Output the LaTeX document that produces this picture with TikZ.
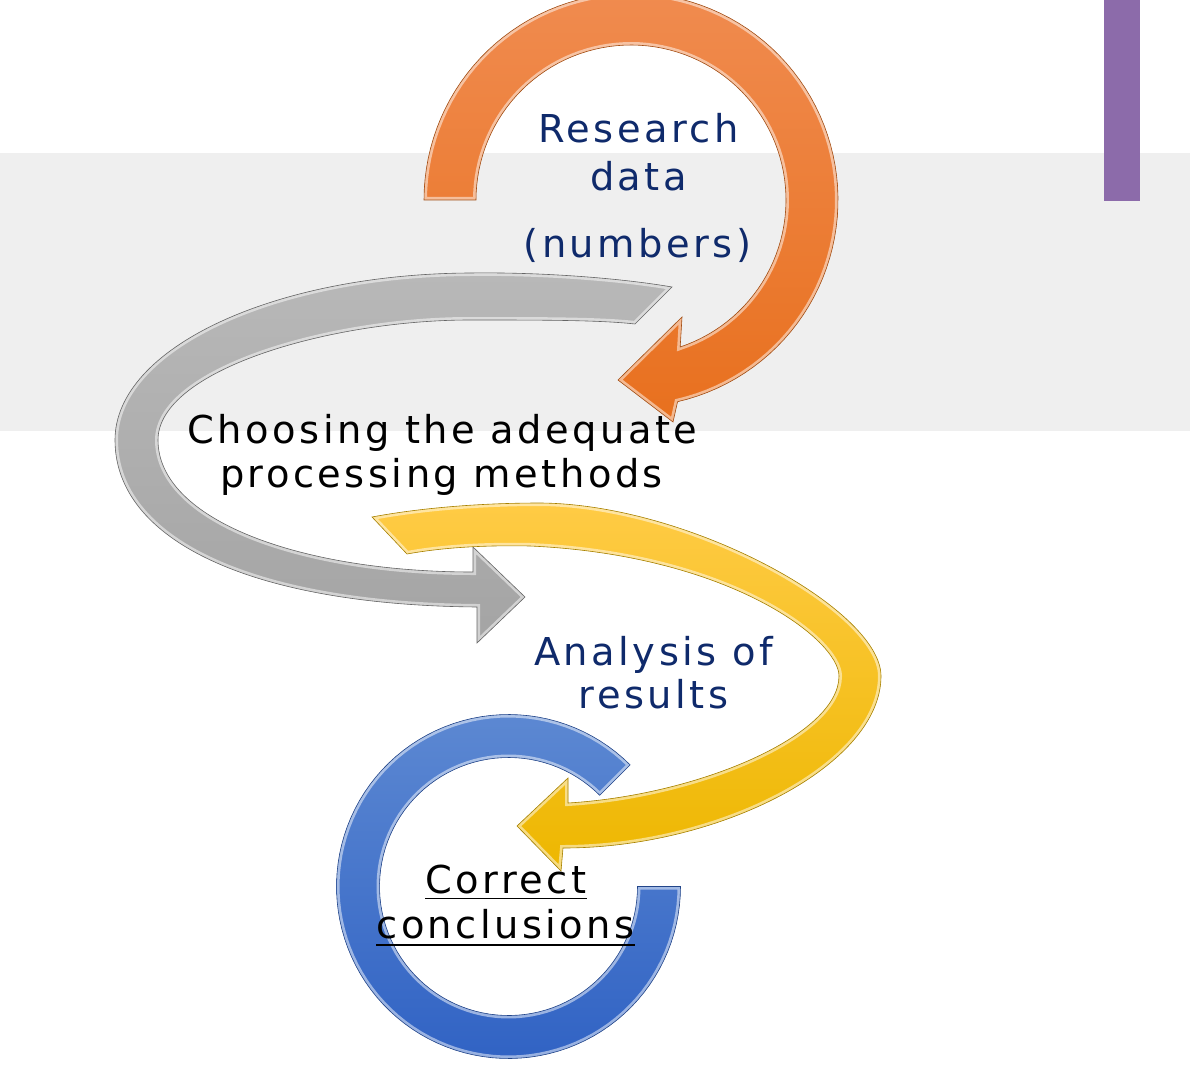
\documentclass[tikz,border=0pt]{standalone}
\usepackage{fontspec}
\setmainfont{DejaVu Sans}
\newfontfamily\labelfont[LetterSpace=9]{DejaVu Sans}

\definecolor{navy}{HTML}{0F2A6B}
\definecolor{bandgray}{HTML}{EFEFEF}
\definecolor{barpurple}{HTML}{8C6BAA}
\definecolor{orangetop}{HTML}{F08B4F}
\definecolor{orangebot}{HTML}{E8701E}
\definecolor{graytop}{HTML}{B8B8B8}
\definecolor{graybot}{HTML}{A4A4A4}
\definecolor{yellowtop}{HTML}{FFCB45}
\definecolor{yellowbot}{HTML}{EDB700}
\definecolor{bluetop}{HTML}{5C88D2}
\definecolor{bluebot}{HTML}{3163C4}

% Outline of each curved arrow; the argument holds the path options
\newcommand\orangearrow[1]{\path[#1] (424,200)
  -- plot[domain=180:437,samples=90,variable=\x] ({631+207*cos(\x)},{200+207*sin(\x)})
  -- (673,422) -- (618,380) -- (682,317)
  -- plot[domain=431.5:180,samples=90,variable=\x] ({631+155*cos(\x)},{200+155*sin(\x)})
  -- cycle;}

\newcommand\grayarrow[1]{\path[#1] (672,287)
  .. controls (620,278) and (540,272) .. (470,273)
  .. controls (274,274) and (115,348) .. (115,440)
  .. controls (115,540) and (250,605) .. (477,607)
  -- (477,643) -- (525,597) -- (473,547) -- (473,572)
  .. controls (300,572) and (158,520) .. (158,440)
  .. controls (158,370) and (330,320) .. (470,320)
  .. controls (540,320) and (600,320) .. (635,324)
  -- cycle;}

\newcommand\yellowarrow[1]{\path[#1] (372,517)
  .. controls (420,508) and (480,503) .. (540,503)
  .. controls (690,504) and (881,610) .. (881,676)
  .. controls (881,765) and (720,848) .. (563,848)
  -- (561,871) -- (517,826) -- (568,778) -- (568,803)
  .. controls (700,795) and (839,735) .. (839,676)
  .. controls (839,640) and (730,555) .. (530,546)
  .. controls (480,545) and (440,548) .. (407,554)
  -- cycle;}

\newcommand\bluearc[1]{\path[#1] (680.5,886.5)
  -- plot[domain=0:315,samples=100,variable=\x] ({508.5+172*cos(\x)},{886.5+172*sin(\x)})
  -- plot[domain=315:0,samples=100,variable=\x] ({508.5+129*cos(\x)},{886.5+129*sin(\x)})
  -- cycle;}

% Shaded body, light inner rim and thin edge
\newcommand\bevelled[4]{%
  #1{top color=#2,bottom color=#3}
  \begin{scope}
    #1{clip}
    #1{draw=white,draw opacity=0.5,line width=6pt}
  \end{scope}
  #1{draw=#4,line width=0.6pt}}

\begin{document}
\begin{tikzpicture}[x=1pt,y=-1pt,
  lbl/.style={inner sep=0pt,anchor=base,
    font=\labelfont\fontsize{38.4}{46}\selectfont}]
  \useasboundingbox (0,0) rectangle (1190,1067);
  \clip (0,0) rectangle (1190,1067);
  \fill[white] (0,0) rectangle (1190,1067);

  % background band and side bar
  \fill[bandgray] (0,153) rectangle (1190,431);
  \fill[barpurple] (1104,0) rectangle (1140,201);

  % arrows
  \bevelled{\orangearrow}{orangetop}{orangebot}{orangebot!70!black}
  \bevelled{\grayarrow}{graytop}{graybot}{gray!80!black}
  \bevelled{\bluearc}{bluetop}{bluebot}{bluebot!70!black}
  \bevelled{\yellowarrow}{yellowtop}{yellowbot}{yellowbot!70!black}

  % labels
  \node[lbl,text=navy] (rd1) at (638.5,143) {Research};
  \node[lbl,text=navy] (rd2) at (638.5,191) {data};
  \node[lbl,text=navy] (rd3) at (637.5,257) {(numbers)};

  \node[lbl,text=black] (ch1) at (442.5,443) {Choosing the adequate};
  \node[lbl,text=black] (ch2) at (441.5,487) {processing methods};

  \node[lbl,text=navy] (an1) at (653.5,665) {Analysis of};
  \node[lbl,text=navy] (an2) at (653.5,708) {results};

  \node[lbl,text=black] (cc1) at (506,893) {Correct};
  \node[lbl,text=black] (cc2) at (505.5,938) {conclusions};
  \draw[line width=1.8pt] ([yshift=-5.5pt]cc1.base west) -- ([yshift=-5.5pt]cc1.base east);
  \draw[line width=1.8pt] ([yshift=-7pt]cc2.base west) -- ([yshift=-7pt]cc2.base east);
\end{tikzpicture}
\end{document}
